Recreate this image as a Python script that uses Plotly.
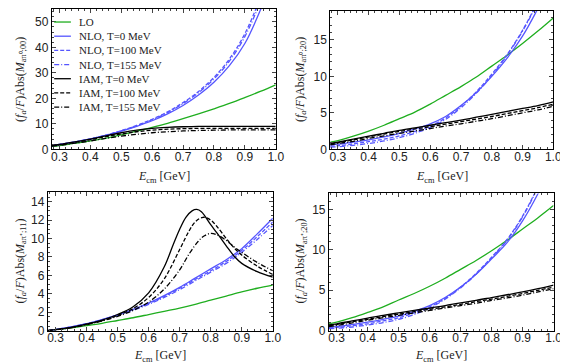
import plotly.graph_objects as go

# energies (GeV)
E = [0.275, 0.3, 0.35, 0.4, 0.45, 0.5, 0.55, 0.6, 0.65, 0.7, 0.75, 0.8, 0.85, 0.9, 0.95, 1.0]

# --- panel (a pi0 ; 00) ---
lo_00 = [1.2, 1.5, 2.4, 3.3, 4.4, 5.7, 7.1, 8.6, 10.2, 12.0, 13.9, 15.9, 18.0, 20.3, 22.7, 25.3]
nlo0_00 = [1.5, 1.9, 2.9, 4.1, 5.5, 7.1, 9.0, 11.2, 13.9, 17.2, 21.3, 26.3, 32.8, 41.5, 54.5, 70.0]
nlo100_00 = [1.5, 1.9, 2.9, 4.1, 5.6, 7.3, 9.4, 11.8, 14.7, 18.3, 22.7, 28.2, 35.4, 45.3, 59.5, 77.0]
nlo155_00 = [1.4, 1.8, 2.8, 4.0, 5.5, 7.2, 9.2, 11.6, 14.4, 17.9, 22.2, 27.6, 34.6, 44.2, 57.8, 75.0]
iam0_00 = [1.5, 1.9, 2.9, 4.0, 5.3, 6.5, 7.5, 8.2, 8.6, 8.85, 9.0, 9.0, 9.0, 9.0, 9.0, 9.0]
iam100_00 = [1.4, 1.8, 2.7, 3.8, 5.0, 6.0, 6.9, 7.5, 7.9, 8.1, 8.2, 8.2, 8.2, 8.2, 8.2, 8.2]
iam155_00 = [1.3, 1.6, 2.4, 3.3, 4.3, 5.2, 5.9, 6.5, 6.9, 7.2, 7.4, 7.5, 7.6, 7.6, 7.6, 7.6]

# --- panel (a pi0 ; 20) ---
lo_20 = [1.0, 1.2, 1.8, 2.5, 3.3, 4.2, 5.1, 6.2, 7.4, 8.6, 9.9, 11.4, 12.9, 14.5, 16.2, 18.0]
nlo0_20 = [0.6, 0.7, 1.0, 1.3, 1.7, 2.2, 2.8, 3.5, 4.5, 6.0, 7.8, 10.0, 12.5, 15.5, 19.3, 23.5]
nlo100_20 = [0.45, 0.5, 0.75, 1.05, 1.4, 1.85, 2.45, 3.2, 4.3, 5.9, 7.9, 10.3, 13.0, 16.3, 20.3, 25.0]
nlo155_20 = [0.3, 0.35, 0.55, 0.8, 1.15, 1.6, 2.2, 3.0, 4.1, 5.7, 7.7, 10.1, 12.9, 16.2, 20.2, 25.0]
iam0_20 = [0.8, 1.0, 1.4, 1.8, 2.2, 2.6, 2.95, 3.3, 3.65, 4.0, 4.4, 4.8, 5.2, 5.6, 6.0, 6.5]
iam100_20 = [0.7, 0.9, 1.3, 1.7, 2.1, 2.45, 2.8, 3.1, 3.45, 3.8, 4.15, 4.5, 4.9, 5.3, 5.7, 6.2]
iam155_20 = [0.6, 0.8, 1.1, 1.5, 1.85, 2.2, 2.5, 2.85, 3.2, 3.5, 3.85, 4.2, 4.6, 5.0, 5.4, 5.9]

# --- panel (a pi+ ; 11) ---
lo_11 = [0.0, 0.1, 0.3, 0.55, 0.8, 1.1, 1.4, 1.75, 2.1, 2.45, 2.85, 3.3, 3.75, 4.2, 4.6, 4.95]
nlo0_11 = [0.0, 0.12, 0.4, 0.75, 1.2, 1.7, 2.3, 3.0, 3.8, 4.7, 5.7, 6.7, 7.7, 8.9, 10.5, 12.2]
nlo100_11 = [0.0, 0.12, 0.4, 0.75, 1.2, 1.7, 2.3, 2.95, 3.7, 4.6, 5.55, 6.5, 7.5, 8.7, 10.2, 11.8]
nlo155_11 = [0.0, 0.11, 0.38, 0.72, 1.15, 1.65, 2.2, 2.85, 3.6, 4.45, 5.4, 6.35, 7.3, 8.5, 9.9, 11.4]
E_iam0_11 = [0.275, 0.3, 0.35, 0.4, 0.45, 0.5, 0.55, 0.6, 0.65, 0.68, 0.7, 0.72, 0.74, 0.755,
             0.77, 0.8, 0.82, 0.85, 0.875, 0.9, 0.95, 1.0]
iam0_11 = [0.0, 0.1, 0.35, 0.7, 1.15, 1.75, 2.6, 4.1, 6.9, 9.4, 11.0, 12.3, 13.0, 13.15,
           12.9, 11.5, 10.6, 9.2, 8.1, 7.3, 6.4, 5.8]
E_iam100_11 = [0.275, 0.3, 0.35, 0.4, 0.45, 0.5, 0.55, 0.6, 0.65, 0.7, 0.73, 0.75, 0.775,
               0.8, 0.82, 0.85, 0.875, 0.9, 0.95, 1.0]
iam100_11 = [0.0, 0.1, 0.35, 0.7, 1.1, 1.65, 2.4, 3.6, 5.6, 8.8, 10.8, 11.8, 12.3,
             12.0, 11.3, 10.0, 9.0, 8.2, 7.0, 6.1]
E_iam155_11 = [0.275, 0.3, 0.35, 0.4, 0.45, 0.5, 0.55, 0.6, 0.65, 0.7, 0.73, 0.76, 0.78,
               0.8, 0.82, 0.85, 0.875, 0.9, 0.95, 1.0]
iam155_11 = [0.0, 0.1, 0.3, 0.65, 1.05, 1.55, 2.2, 3.1, 4.5, 6.6, 8.3, 9.7, 10.3,
             10.55, 10.4, 9.8, 9.1, 8.5, 7.4, 6.5]

# --- panel (a pi+ ; 20) ---
lo_p20 = [0.85, 1.05, 1.6, 2.25, 2.95, 3.8, 4.6, 5.5, 6.5, 7.6, 8.7, 9.9, 11.2, 12.6, 14.0, 15.5]
nlo0_p20 = [0.45, 0.5, 0.75, 1.05, 1.4, 1.8, 2.4, 3.1, 4.1, 5.4, 7.0, 8.9, 10.9, 13.6, 17.0, 21.0]
nlo100_p20 = [0.35, 0.4, 0.6, 0.85, 1.2, 1.6, 2.2, 2.95, 4.0, 5.4, 7.1, 9.1, 11.3, 14.2, 17.9, 22.3]
nlo155_p20 = [0.25, 0.3, 0.45, 0.7, 1.0, 1.4, 2.0, 2.8, 3.9, 5.3, 7.0, 9.0, 11.2, 14.1, 17.8, 22.2]
iam0_p20 = [0.7, 0.85, 1.2, 1.55, 1.9, 2.2, 2.5, 2.8, 3.1, 3.45, 3.75, 4.1, 4.45, 4.8, 5.2, 5.65]
iam100_p20 = [0.6, 0.75, 1.1, 1.4, 1.75, 2.05, 2.35, 2.65, 2.95, 3.25, 3.6, 3.9, 4.25, 4.6, 5.0, 5.4]
iam155_p20 = [0.5, 0.65, 0.95, 1.3, 1.6, 1.9, 2.2, 2.5, 2.8, 3.1, 3.4, 3.75, 4.05, 4.4, 4.8, 5.2]

labels = ['LO', 'NLO, T=0 MeV', 'NLO, T=100 MeV', 'NLO, T=155 MeV',
          'IAM, T=0 MeV', 'IAM, T=100 MeV', 'IAM, T=155 MeV']

GREEN = '#1fae1f'
BLUE = '#5555ff'
DASH = '4px,2px'
DASHDOT = '5px,2px,1px,2px'
styles = [(GREEN, 'solid'), (BLUE, 'solid'), (BLUE, DASH), (BLUE, DASHDOT),
          ('black', 'solid'), ('black', DASH), ('black', DASHDOT)]

panels = [
    ('x', 'y', [(E, lo_00), (E, nlo0_00), (E, nlo100_00), (E, nlo155_00),
                (E, iam0_00), (E, iam100_00), (E, iam155_00)]),
    ('x2', 'y2', [(E, lo_20), (E, nlo0_20), (E, nlo100_20), (E, nlo155_20),
                  (E, iam0_20), (E, iam100_20), (E, iam155_20)]),
    ('x3', 'y3', [(E, lo_11), (E, nlo0_11), (E, nlo100_11), (E, nlo155_11),
                  (E_iam0_11, iam0_11), (E_iam100_11, iam100_11), (E_iam155_11, iam155_11)]),
    ('x4', 'y4', [(E, lo_p20), (E, nlo0_p20), (E, nlo100_p20), (E, nlo155_p20),
                  (E, iam0_p20), (E, iam100_p20), (E, iam155_p20)]),
]

fig = go.Figure()
for xa, ya, series in panels:
    for (xs, ys), (col, dash), name in zip(series, styles, labels):
        fig.add_trace(go.Scatter(x=xs, y=ys, xaxis=xa, yaxis=ya, mode='lines', name=name,
                                 line=dict(color=col, dash=dash, width=1.3, shape='spline'),
                                 showlegend=False))

tickfont = dict(family='Liberation Sans, Arial', size=12, color='#222')

def xax(domain, anchor):
    return dict(domain=domain, anchor=anchor, range=[0.275, 1.0], tick0=0.3, dtick=0.1,
                tickformat='.1f', ticks='inside', ticklen=4, showline=True, linecolor='black',
                linewidth=1, mirror='ticks', showgrid=False, zeroline=False, tickfont=tickfont,
                ticklabelstandoff=-4,
                minor=dict(ticks='inside', ticklen=2, dtick=0.02, tick0=0.3, showgrid=False))

def yax(domain, anchor, rng, dt, mdt):
    return dict(domain=domain, anchor=anchor, range=rng, dtick=dt, tick0=0,
                ticks='inside', ticklen=4, showline=True, linecolor='black',
                linewidth=1, mirror='ticks', showgrid=False, zeroline=False, tickfont=tickfont,
                minor=dict(ticks='inside', ticklen=2, dtick=mdt, tick0=0, showgrid=False))

fig.update_layout(
    width=568, height=363, margin=dict(l=0, r=0, t=0, b=0),
    plot_bgcolor='white', paper_bgcolor='white', showlegend=False,
    xaxis=xax([0.0766, 0.478], 'y'),
    yaxis=yax([0.603, 0.997], 'x', [0, 55], 10, 2),
    xaxis2=xax([0.5757, 0.9754], 'y2'),
    yaxis2=yax([0.603, 0.9925], 'x2', [0, 19], 5, 1),
    xaxis3=xax([0.0695, 0.4727], 'y3'),
    yaxis3=yax([0.0937, 0.482], 'x3', [0, 15], 2, 0.5),
    xaxis4=xax([0.5734, 0.9759], 'y4'),
    yaxis4=yax([0.0937, 0.479], 'x4', [0, 17], 5, 1),
)

serif = dict(family='Liberation Serif, Times New Roman', size=12, color='#222')
xtitle = '<i>E</i><sub>cm</sub> [GeV]'
ytitle = '(<i>f<sub>a</sub></i>/<i>F</i>)Abs(<i>M</i><sub>a\u03c0%s</sub>)'
for xc, yc in [(0.277, 0.526), (0.776, 0.526), (0.271, 0.022), (0.775, 0.022)]:
    fig.add_annotation(x=xc, y=yc, xref='paper', yref='paper', text=xtitle, showarrow=False,
                       font=serif, xanchor='center', yanchor='middle')
for xc, yc, sub in [(0.021, 0.80, '\u2070;00'), (0.523, 0.80, '\u2070;20'),
                    (0.021, 0.29, '\u207a;11'), (0.523, 0.29, '\u207a;20')]:
    fig.add_annotation(x=xc, y=yc, xref='paper', yref='paper', text=ytitle % sub,
                       showarrow=False, font=serif, textangle=-90,
                       xanchor='center', yanchor='middle')

# legend drawn inside the first panel
for i, ((col, dash), name) in enumerate(zip(styles, labels)):
    ypx = 14.3 + 14.45 * i
    yp = (363 - ypx) / 363
    fig.add_shape(type='line', xref='paper', yref='paper', x0=46 / 568, x1=63 / 568,
                  y0=yp, y1=yp, line=dict(color=col, dash=dash, width=1.3))
    fig.add_annotation(x=69 / 568, y=yp, xref='paper', yref='paper', text=name,
                       showarrow=False, xanchor='left', yanchor='middle',
                       font=dict(family='Liberation Serif, Times New Roman', size=11, color='#222'))

fig.write_html('out.html')
